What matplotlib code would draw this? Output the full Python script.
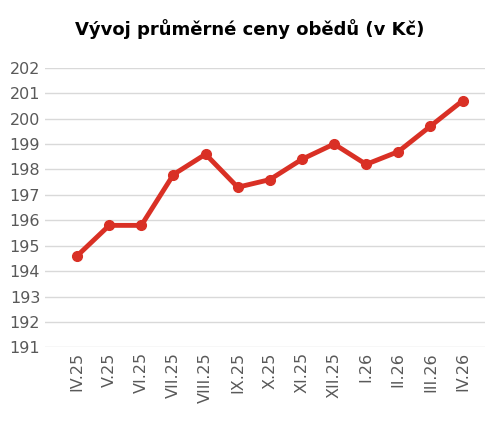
import matplotlib
matplotlib.use("Agg")
import matplotlib.pyplot as plt

months = ["IV.25","V.25","VI.25","VII.25","VIII.25","IX.25","X.25","XI.25","XII.25","I.26","II.26","III.26","IV.26"]
prices = [194.6,195.8,195.8,197.8,198.6,197.3,197.6,198.4,199.0,198.2,198.7,199.7,200.7]
yticks = list(range(191, 203))

fig = plt.figure(figsize=(5.0, 4.37), dpi=100)
ax = fig.add_axes([0.09, 0.205, 0.88, 0.64])
x = range(len(months))
ax.plot(x, prices, color="#d93025", lw=3.5, marker="o", ms=7, zorder=3)
ax.set_ylim(191, 202)
ax.set_yticks(yticks)
ax.set_xlim(-1.0, len(months) - 0.3)
ax.set_xticks(list(x))
ax.set_xticklabels(months, rotation=90, color="#595959", fontsize=11.5)
ax.tick_params(axis="y", colors="#595959", labelsize=11.5, length=0)
ax.tick_params(axis="x", length=0)
ax.grid(axis="y", color="#d9d9d9", lw=1)
for s in ax.spines.values():
    s.set_visible(False)
ax.set_axisbelow(True)
fig.text(0.5, 0.92, "Vývoj průměrné ceny obědů (v Kč)", ha="center", fontsize=13, fontweight="bold")
fig.savefig("out.png", dpi=100)
